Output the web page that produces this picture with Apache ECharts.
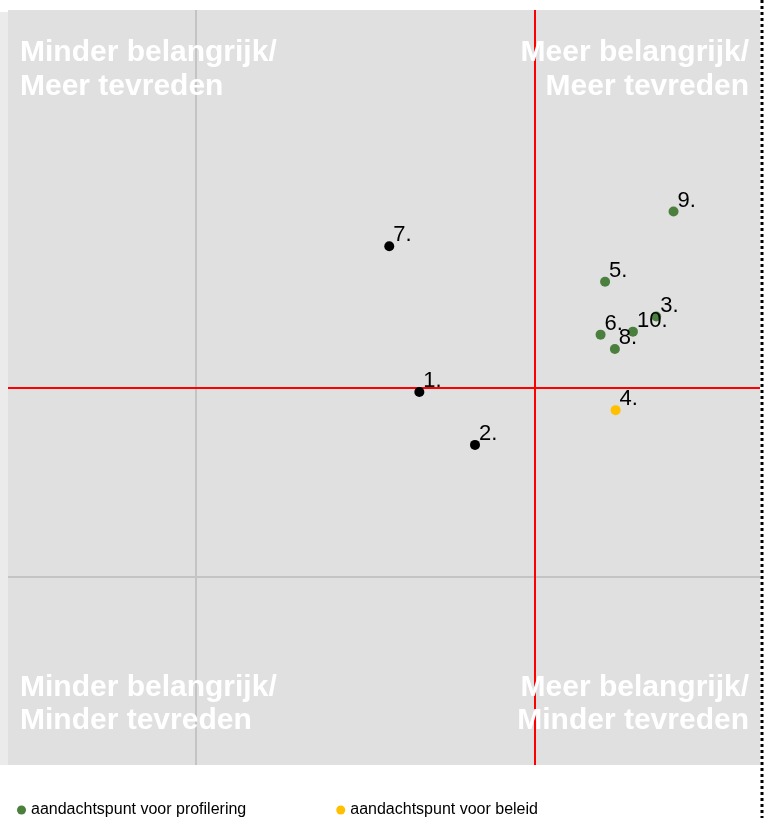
<!DOCTYPE html>
<html>
<head>
<meta charset="utf-8">
<script src="https://cdn.jsdelivr.net/npm/echarts@6/dist/echarts.min.js"></script>
<style>html,body{margin:0;padding:0;background:#fff;}#c{width:766px;height:818px;}</style>
</head>
<body>
<div id="c"></div>
<script>
// Data (x = belang, y = tevredenheid, on a 0-100 scale)
const blackLabels = ['1.', '2.', '7.'];
const blackX = [54.7, 62.1, 50.7];
const blackY = [49.4, 42.4, 68.7];

const greenLabels = ['3.', '5.', '6.', '8.', '9.', '10.'];
const greenX = [86.2, 79.4, 78.8, 80.7, 88.5, 83.1];
const greenY = [59.4, 64.0, 57.0, 55.1, 73.3, 57.4];

const yellowLabels = ['4.'];
const yellowX = [80.8];
const yellowY = [47.0];

const refX = 70;   // red vertical line
const refY = 50;   // red horizontal line
const gridX = 25;  // gray vertical line
const gridY = 25;  // gray horizontal line

const seriesNames = ['aandachtspunt voor profilering', 'aandachtspunt voor beleid'];
const quadrantTexts = [
  ['Minder belangrijk/', 'Meer tevreden'],
  ['Meer belangrijk/', 'Meer tevreden'],
  ['Minder belangrijk/', 'Minder tevreden'],
  ['Meer belangrijk/', 'Minder tevreden']
];

function pts(xs, ys, labels) {
  return xs.map((x, i) => ({ value: [x, ys[i]], name: labels[i] }));
}

const FONT = '"Liberation Sans", Arial, sans-serif';
const labelCfg = {
  show: true,
  position: 'right',
  distance: 0,
  offset: [-1, -11],
  formatter: p => p.name,
  color: '#000',
  fontSize: 22,
  fontFamily: FONT
};

const chart = echarts.init(document.getElementById('c'));
const qStyle = { fill: '#ffffff', fontSize: 30, fontWeight: 'bold', fontFamily: FONT, verticalAlign: 'middle' };
function qText(x, y, text, align) {
  return { type: 'text', x: x, y: y, z: 100, style: Object.assign({ text: text, align: align }, qStyle) };
}

chart.setOption({
  animation: false,
  backgroundColor: '#ffffff',
  grid: { left: 8, right: 6, top: 10, bottom: 53, show: true, backgroundColor: '#e0e0e0', borderWidth: 0 },
  xAxis: { type: 'value', min: 0, max: 100, interval: 25, axisLine: { show: false }, axisTick: { show: false }, axisLabel: { show: false }, splitLine: { show: false } },
  yAxis: { type: 'value', min: 0, max: 100, interval: 25, axisLine: { show: false }, axisTick: { show: false }, axisLabel: { show: false }, splitLine: { show: false } },
  legend: {
    data: seriesNames,
    left: 12, top: 797,
    icon: 'circle', itemWidth: 9, itemHeight: 9, itemGap: 90,
    textStyle: { color: '#000', fontSize: 16, fontFamily: FONT }
  },
  series: [
    {
      type: 'scatter', name: 'gridlines', data: [], silent: true,
      markLine: {
        silent: true, symbol: 'none', label: { show: false },
        lineStyle: { color: '#c4c4c4', width: 2, type: 'solid' },
        data: [{ xAxis: gridX }, { yAxis: gridY }]
      }
    },
    {
      type: 'scatter', name: 'reflines', data: [], silent: true, z: 3,
      markLine: {
        silent: true, symbol: 'none', label: { show: false },
        lineStyle: { color: '#ff0000', width: 2, type: 'solid' },
        data: [{ xAxis: refX }, { yAxis: refY }]
      }
    },
    {
      type: 'scatter', name: 'overig', symbolSize: 10, z: 5,
      itemStyle: { color: '#000000', opacity: 1 },
      label: labelCfg,
      data: pts(blackX, blackY, blackLabels)
    },
    {
      type: 'scatter', name: seriesNames[0], symbolSize: 10, z: 5,
      itemStyle: { color: '#4a7f3e', opacity: 1 },
      label: labelCfg,
      data: pts(greenX, greenY, greenLabels)
    },
    {
      type: 'scatter', name: seriesNames[1], symbolSize: 10, z: 5,
      itemStyle: { color: '#ffc000', opacity: 1 },
      label: labelCfg,
      data: pts(yellowX, yellowY, yellowLabels)
    }
  ],
  graphic: [
    { type: 'rect', shape: { x: 0, y: 12, width: 8, height: 753 }, style: { fill: '#ebebeb' }, z: -1 },
    { type: 'line', shape: { x1: 762, y1: 0, x2: 762, y2: 818 }, style: { stroke: '#000', lineWidth: 3, lineDash: [3, 3] }, z: 100 },
    qText(20, 53, quadrantTexts[0][0], 'left'),
    qText(20, 87, quadrantTexts[0][1], 'left'),
    qText(749, 53, quadrantTexts[1][0], 'right'),
    qText(749, 87, quadrantTexts[1][1], 'right'),
    qText(20, 688, quadrantTexts[2][0], 'left'),
    qText(20, 721, quadrantTexts[2][1], 'left'),
    qText(749, 688, quadrantTexts[3][0], 'right'),
    qText(749, 721, quadrantTexts[3][1], 'right')
  ]
});
</script>
</body>
</html>
